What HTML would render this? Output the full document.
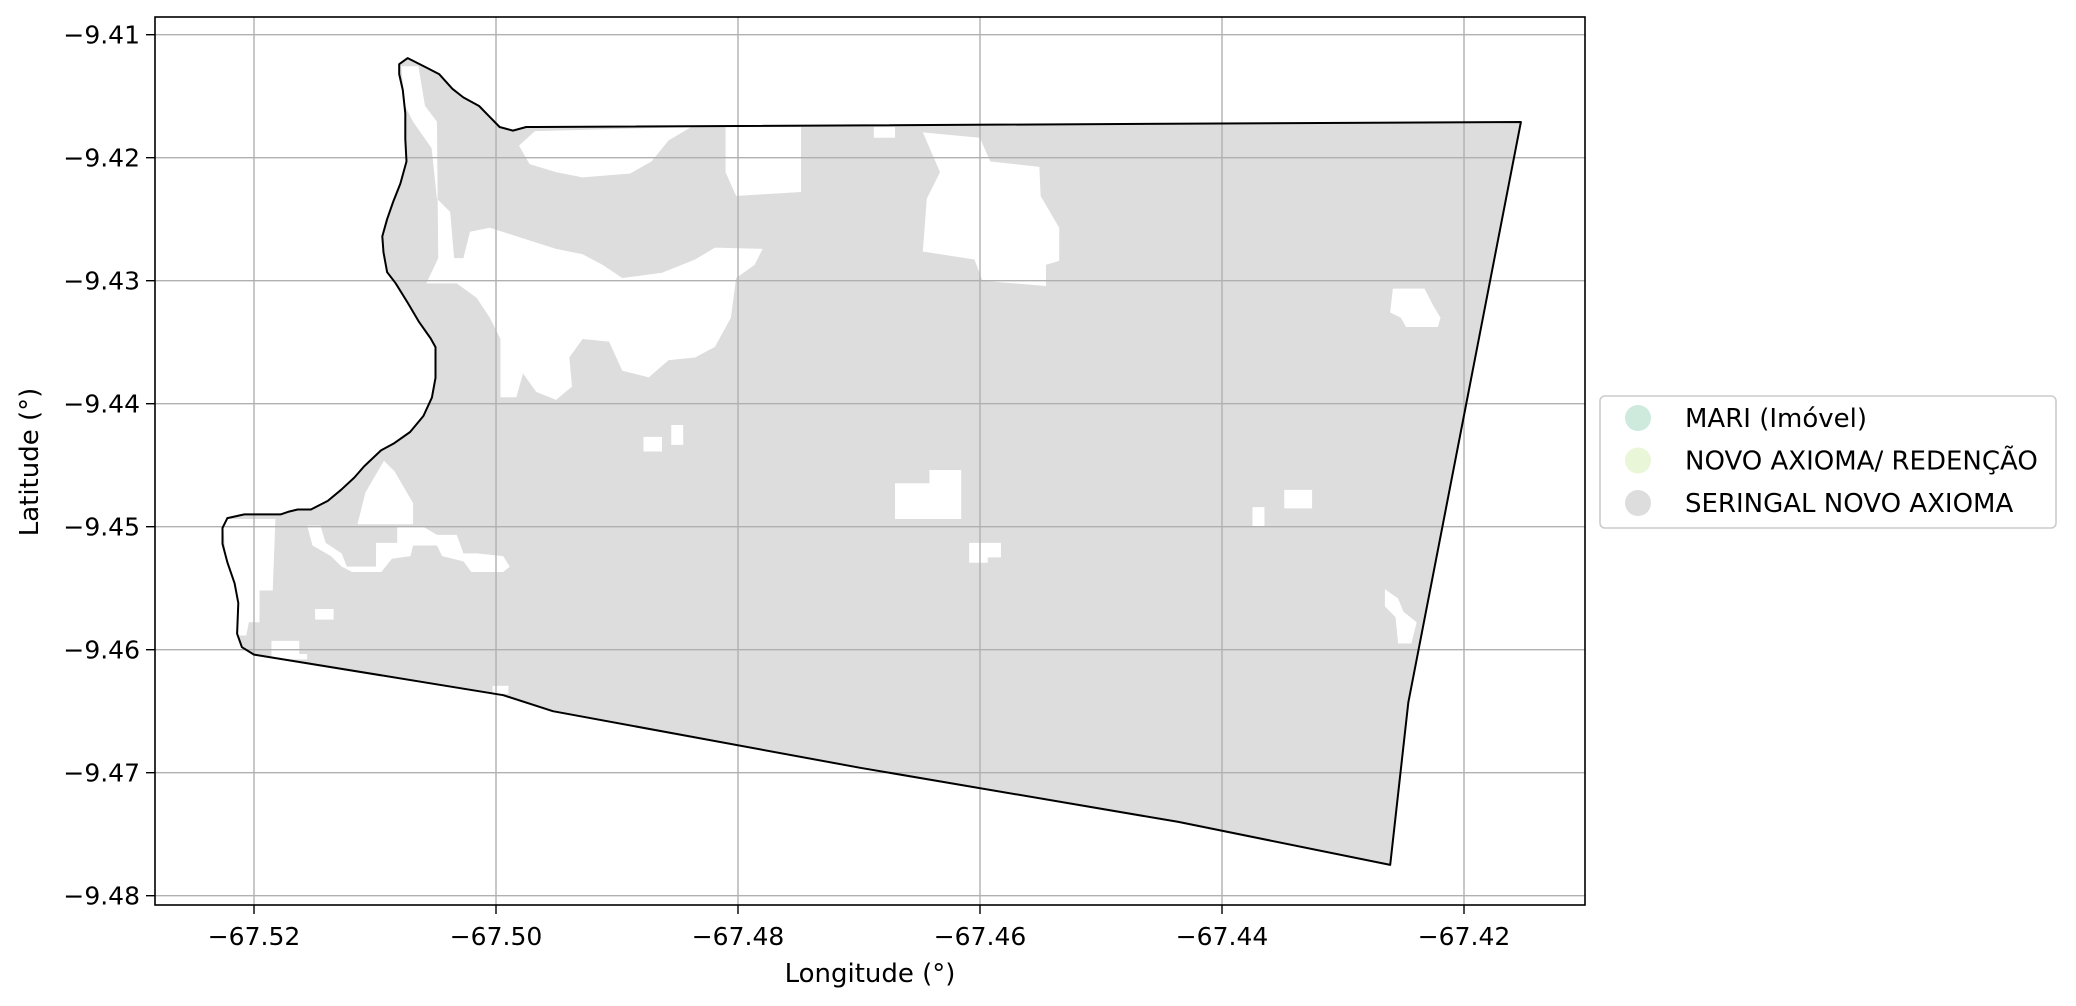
<!DOCTYPE html>
<html><head><meta charset="utf-8"><style>
html,body{margin:0;padding:0;background:#fff;}
svg{display:block;font-family:"DejaVu Sans","Liberation Sans",sans-serif;}
</style></head><body>
<svg id="chart" width="2076" height="1006" viewBox="0 0 2076 1006" xmlns="http://www.w3.org/2000/svg">
<defs><clipPath id="axclip"><rect x="155" y="17" width="1430" height="888"/></clipPath></defs>
<g id="fill" clip-path="url(#axclip)"></g>
<g id="holes" transform="scale(1.324)"></g>
<g id="grid"></g>
<g id="outline"></g>
<rect x="155" y="17" width="1430" height="888" fill="none" stroke="#000" stroke-width="1.6"/>
<g id="ticks"></g>
<text x="870" y="982" font-size="26" text-anchor="middle">Longitude (°)</text>
<text transform="translate(38,462) rotate(-90)" font-size="26" text-anchor="middle">Latitude (°)</text>
<g>
<rect x="1600" y="396" width="456" height="132" rx="5" fill="#fff" stroke="#cccccc" stroke-width="1.6"/>
<g id="legend"></g>
</g>
</svg>
<script>
const lonTicks=[-67.52,-67.50,-67.48,-67.46,-67.44,-67.42];
const latTicks=[-9.41,-9.42,-9.43,-9.44,-9.45,-9.46,-9.47,-9.48];
const legendLabels=["MARI (Imóvel)","NOVO AXIOMA/ REDENÇÃO","SERINGAL NOVO AXIOMA"];
const legendColors=["#cdeadc","#eaf6d8","#dddddd"];
const boundaryLon=[-67.5080,-67.5073,-67.5057,-67.5047,-67.5036,-67.5027,-67.5014,-67.5005,-67.4997,-67.4986,-67.4975,-67.4966,-67.4153,-67.4246,-67.4261,-67.4436,-67.4699,-67.4953,-67.4994,-67.5200,-67.5210,-67.5214,-67.5213,-67.5216,-67.5222,-67.5226,-67.5226,-67.5222,-67.5208,-67.5178,-67.5172,-67.5164,-67.5153,-67.5139,-67.5128,-67.5117,-67.5109,-67.5095,-67.5084,-67.5071,-67.5060,-67.5053,-67.5050,-67.5050,-67.5054,-67.5064,-67.5073,-67.5083,-67.5090,-67.5093,-67.5094,-67.5090,-67.5085,-67.5079,-67.5074,-67.5075,-67.5075,-67.5077,-67.5080];
const boundaryLat=[-9.4124,-9.4119,-9.4127,-9.4132,-9.4144,-9.4151,-9.4158,-9.4167,-9.4175,-9.4178,-9.4175,-9.4175,-9.4171,-9.4643,-9.4775,-9.4740,-9.4696,-9.4650,-9.4637,-9.4604,-9.4598,-9.4587,-9.4562,-9.4546,-9.4529,-9.4514,-9.4501,-9.4493,-9.4490,-9.4490,-9.4488,-9.4486,-9.4486,-9.4479,-9.4470,-9.4460,-9.4451,-9.4438,-9.4432,-9.4423,-9.4410,-9.4395,-9.4379,-9.4354,-9.4347,-9.4333,-9.4318,-9.4302,-9.4293,-9.4277,-9.4264,-9.4250,-9.4236,-9.4221,-9.4203,-9.4185,-9.4164,-9.4145,-9.4132];
const NS="http://www.w3.org/2000/svg";
function xs(lon){return 254+(lon+67.52)/0.02*242;}
function ys(lat){return 34.7+(-9.41-lat)/0.01*123;}
function mk(tag,attrs,parent){const e=document.createElementNS(NS,tag);for(const k in attrs)e.setAttribute(k,attrs[k]);parent.appendChild(e);return e;}
const pts=boundaryLon.map((l,i)=>xs(l).toFixed(1)+","+ys(boundaryLat[i]).toFixed(1)).join(" ");
const fillPoly=mk("polygon",{points:pts,fill:"#dddddd",stroke:"none"},document.getElementById("fill"));


// uncovered (white) patches, in display units
const holeShapes=[
"303,50 316,50 321,80 330,92 331,195 322,214 345,214 360,225 370,240 378,256 378,300 390,300 395,282 405,296 420,302 432,292 430,270 440,256 460,258 470,280 490,285 505,272 525,270 540,262 552,240 556,210 570,200 576,188 540,187 525,196 500,206 470,210 455,200 440,192 420,188 395,180 370,172 355,175 350,195 343,195 340,160 330,150 326,112 312,92 306,80",
"404,99 522,96 505,106 492,122 476,131 440,134 420,130 400,124 392,110",
"548,96 605,96 605,145 556,148 548,130",
"660,96 676,96 676,104 660,104",
"697,100 740,104 748,122 785,126 786,148 800,172 800,197 790,200 790,216 742,212 736,196 697,190 700,150 710,130",
"1052,218 1076,218 1082,230 1088,240 1086,247 1062,247 1058,240 1050,236",
"1046,445 1056,452 1060,462 1070,470 1066,486 1056,486 1054,466 1046,458",
"486,330 500,330 500,341 486,341",
"507,321 516,321 516,336 507,336",
"676,365 702,365 702,355 726,355 726,392 676,392",
"732,410 756,410 756,421 746,421 746,425 732,425",
"946,383 955,383 955,398 946,398",
"970,370 991,370 991,384 970,384",
"290,348 298,356 312,380 312,396 270,396 276,372",
"168,392 208,392 206,446 196,446 196,470 188,470 186,480 176,480",
"232,397 242,397 246,410 258,418 262,428 284,428 284,410 300,410 300,398 320,398 330,404 345,404 350,418 360,418 380,420 385,428 380,432 356,432 350,424 334,420 330,412 312,412 310,420 296,422 288,432 266,432 258,428 250,420 236,412",
"238,460 252,460 252,468 238,468",
"205,484 226,484 226,494 232,494 232,498 205,498",
"372,518 384,518 384,524 372,524"
];
const holesG=document.getElementById("holes");
holeShapes.forEach(p=>{
  const h=mk("polygon",{points:p,fill:"#ffffff"},holesG);
  
  
});
const grid=document.getElementById("grid"),ticks=document.getElementById("ticks");
lonTicks.forEach(v=>{
  const x=xs(v);
  const g=mk("line",{x1:x,x2:x,y1:17,y2:905,stroke:"#b0b0b0","stroke-width":1.4},grid);
  
  
  mk("line",{x1:x,x2:x,y1:905,y2:914,stroke:"#000","stroke-width":1.4},ticks);
  const t=mk("text",{x:x,y:945,"font-size":25,"text-anchor":"middle"},ticks);
  t.textContent="\u2212"+Math.abs(v).toFixed(2);
  
  
});
latTicks.forEach(v=>{
  const y=ys(v);
  const g=mk("line",{x1:155,x2:1585,y1:y,y2:y,stroke:"#b0b0b0","stroke-width":1.4},grid);
  
  
  mk("line",{x1:146,x2:155,y1:y,y2:y,stroke:"#000","stroke-width":1.4},ticks);
  const t=mk("text",{x:140,y:y+9,"font-size":25,"text-anchor":"end"},ticks);
  t.textContent="\u2212"+Math.abs(v).toFixed(2);
  
  
});
const ol=mk("polygon",{points:pts,fill:"none",stroke:"#000","stroke-width":2,"stroke-linejoin":"round"},document.getElementById("outline"));


const lg=document.getElementById("legend");
legendLabels.forEach((lab,i)=>{
  const y=418+i*42.5;
  const c=mk("circle",{cx:1638,cy:y,r:13,fill:legendColors[i]},lg);
  
  
  const t=mk("text",{x:1685,y:y+9,"font-size":26,"textLength":lab.length>14?0:null},lg);
  t.removeAttribute("textLength");
  t.textContent=lab;
  
  
});
</script>
</body></html>
